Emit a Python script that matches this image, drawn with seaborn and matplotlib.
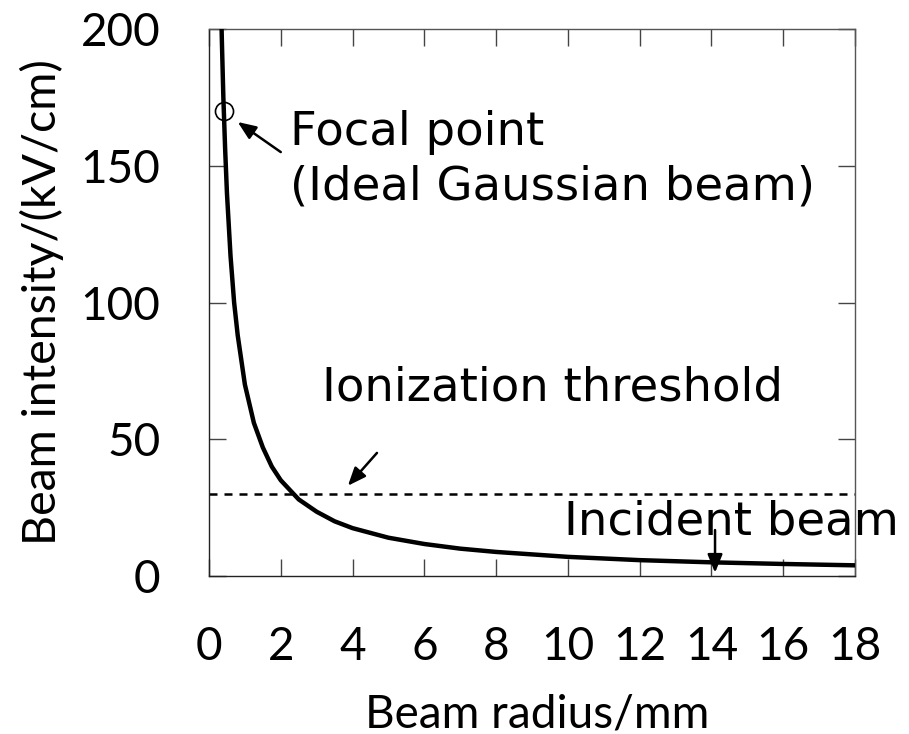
import matplotlib
matplotlib.use("Agg")
import matplotlib.pyplot as plt
import seaborn as sns
import pandas as pd

# Data
radius_mm = [0.33, 0.36, 0.4, 0.45, 0.5, 0.6, 0.7, 0.8, 1.0, 1.25, 1.5, 1.75, 2.0, 2.5,
             3.0, 3.5, 4.0, 5.0, 6.0, 7.0, 8.0, 10.0, 12.0, 14.0, 16.0, 18.0]
intensity = [212, 195, 175, 156, 140, 117, 100, 88, 70, 56, 47, 40, 35, 28,
             23.5, 20, 17.5, 14, 11.7, 10, 8.8, 7.0, 5.8, 5.0, 4.4, 3.9]
threshold = 30
focal_r, focal_I = 0.42, 170
x_ticks = [0, 2, 4, 6, 8, 10, 12, 14, 16, 18]
y_ticks = [0, 50, 100, 150, 200]

df = pd.DataFrame({"r": radius_mm, "I": intensity})

sns.set_style("ticks")
plt.rcParams["font.family"] = ["Lato", "DejaVu Sans"]
plt.rcParams["text.color"] = "black"
plt.rcParams["axes.labelcolor"] = "black"
plt.rcParams["xtick.labelcolor"] = "black"
plt.rcParams["ytick.labelcolor"] = "black"

ANN_FS = 33.5
fig = plt.figure(figsize=(9.09, 7.34), dpi=100)
ax = fig.add_axes([209/909, 1-576/734, (855-209)/909, (576-29)/734])

sns.lineplot(data=df, x="r", y="I", ax=ax, color="black", lw=3.2, zorder=3)
ax.axhline(threshold, color="black", lw=1.8, ls=(0, (3.2, 2.8)), zorder=2)
ax.plot([focal_r], [focal_I], marker="o", ms=13, mfc="none", mec="black", mew=1.2, zorder=4)

ax.set_xlim(0, 18)
ax.set_ylim(0, 200)
ax.set_xticks(x_ticks)
ax.set_yticks(y_ticks)
ax.set_xlabel("Beam radius/mm", fontsize=33)
ax.set_ylabel("Beam intensity/(kV/cm)", fontsize=33.5)
ax.xaxis.set_label_coords(0.5085, -0.2140)
ax.yaxis.set_label_coords(-0.2245, 0.500)

for name, s in ax.spines.items():
    s.set_visible(True)
    s.set_linewidth(1.0)
    s.set_color("#222222" if name in ("left", "bottom") else "#555555")
ax.tick_params(axis="both", direction="in", length=12, width=1.0, color="#444444",
               labelsize=33, top=True, right=True)
ax.tick_params(axis="x", pad=36)
ax.tick_params(axis="y", pad=35)

arrow = dict(arrowstyle="-|>,head_length=1.1,head_width=0.45", color="black", lw=1.8,
             shrinkA=0, shrinkB=0)
ax.annotate("", xy=(0.8, 166), xytext=(2.0, 155), arrowprops=arrow)
ax.annotate("", xy=(3.87, 33), xytext=(4.68, 45), arrowprops=arrow)
ax.annotate("", xy=(14.1, 1.2), xytext=(14.1, 16.8), arrowprops=arrow, annotation_clip=False)

ann_font = ["DejaVu Sans"]
ax.text(2.26, 157.6, "Focal point", fontsize=ANN_FS, va="baseline", ha="left", family=ann_font)
ax.text(2.26, 137.5, "(Ideal Gaussian beam)", fontsize=ANN_FS, va="baseline", ha="left", family=ann_font)
ax.text(3.15, 64, "Ionization threshold", fontsize=ANN_FS, va="baseline", ha="left", family=ann_font)
ax.text(9.89, 15, "Incident beam", fontsize=ANN_FS, va="baseline", ha="left", clip_on=False,
        family=ann_font)

fig.savefig("out.png", dpi=100)
